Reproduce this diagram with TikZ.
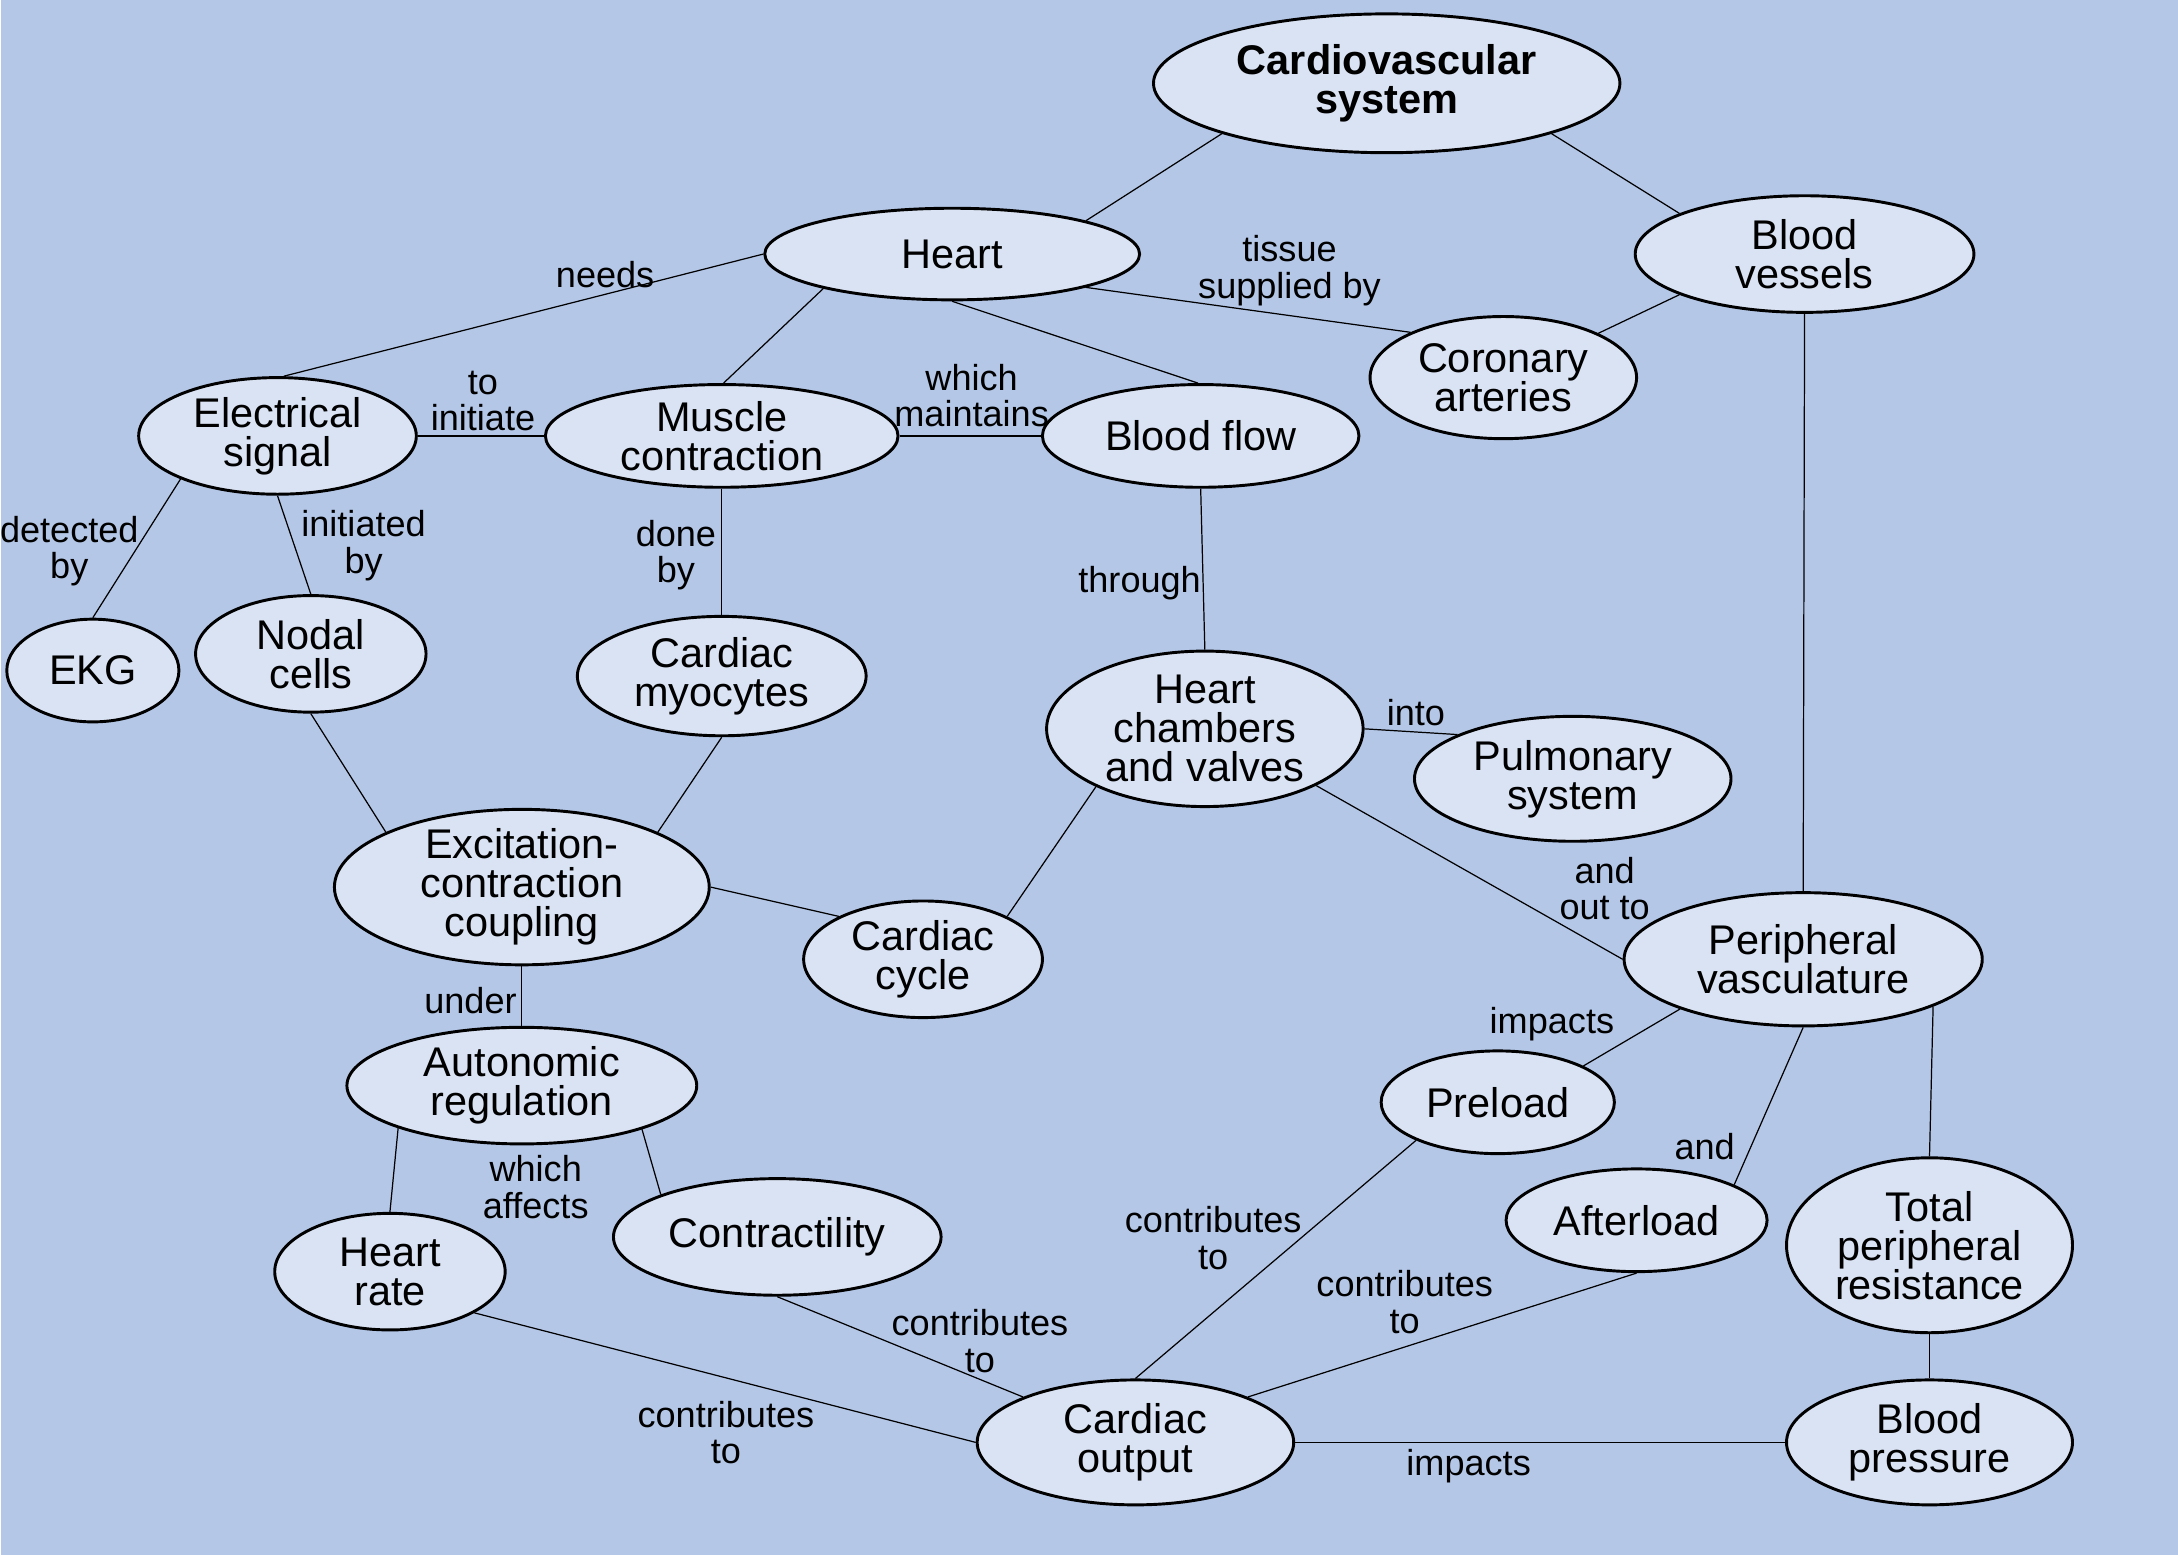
\documentclass[tikz,border=0pt]{standalone}
\usepackage{fontspec}
\setmainfont{Liberation Sans}
\usepackage{tikz}
\usetikzlibrary{shapes,positioning}
\definecolor{bgblue}{HTML}{B4C7E7}
\definecolor{nodefill}{HTML}{DAE3F3}
\tikzset{
    state/.style ={ellipse, draw, fill=nodefill, line width=1.2pt, align=center,
        inner xsep=0pt, inner ysep=-3pt, font=\fontsize{17}{16}\selectfont},
    el/.style = {inner sep=0pt, align=center, font=\fontsize{14.8}{15}\selectfont}
}

\begin{document}
\begin{tikzpicture}[line width=0.5pt]
    \fill[bgblue] (0,0) rectangle (31.36,-22.4);
    \node[state, minimum width=6.72cm, minimum height=2cm, font=\fontsize{17}{16}\selectfont\bfseries] (cvs) at (19.96,-1.2) {Cardiovascular\\system};
    \node[state, minimum width=5.4cm, minimum height=1.32cm] (heart) at (13.7,-3.66) {Heart};
    \node[state, minimum width=4.88cm, minimum height=1.68cm] (vessels) at (25.98,-3.66) {Blood\\vessels};
    \node[state, minimum width=3.84cm, minimum height=1.76cm] (coronary) at (21.64,-5.44) {Coronary\\arteries};
    \node[state, minimum width=4cm, minimum height=1.68cm] (elec) at (3.98,-6.28) {Electrical\\signal};
    \node[state, minimum width=5.08cm, minimum height=1.48cm] (muscle) at (10.38,-6.28) {Muscle\\contraction};
    \node[state, minimum width=4.56cm, minimum height=1.48cm] (flow) at (17.28,-6.28) {Blood flow};
    \node[state, minimum width=2.48cm, minimum height=1.48cm] (ekg) at (1.32,-9.66) {EKG};
    \node[state, minimum width=3.32cm, minimum height=1.68cm] (nodal) at (4.46,-9.42) {Nodal\\cells};
    \node[state, minimum width=4.16cm, minimum height=1.72cm] (myocytes) at (10.38,-9.74) {Cardiac\\myocytes};
    \node[state, minimum width=4.56cm, minimum height=2.24cm] (chambers) at (17.34,-10.5) {Heart\\chambers\\and valves};
    \node[state, minimum width=4.56cm, minimum height=1.8cm] (pulmonary) at (22.64,-11.22) {Pulmonary\\system};
    \node[state, minimum width=5.4cm, minimum height=2.24cm] (excitation) at (7.5,-12.78) {Excitation-\\contraction\\coupling};
    \node[state, minimum width=3.44cm, minimum height=1.68cm] (cycle) at (13.28,-13.82) {Cardiac\\cycle};
    \node[state, minimum width=5.16cm, minimum height=1.92cm] (peripheral) at (25.96,-13.82) {Peripheral\\vasculature};
    \node[state, minimum width=5.04cm, minimum height=1.68cm] (autonomic) at (7.5,-15.64) {Autonomic\\regulation};
    \node[state, minimum width=3.36cm, minimum height=1.48cm] (preload) at (21.56,-15.88) {Preload};
    \node[state, minimum width=3.76cm, minimum height=1.48cm] (afterload) at (23.56,-17.58) {Afterload};
    \node[state, minimum width=4.12cm, minimum height=2.52cm] (tpr) at (27.78,-17.94) {Total\\peripheral\\resistance};
    \node[state, minimum width=3.32cm, minimum height=1.68cm] (hrate) at (5.6,-18.32) {Heart\\rate};
    \node[state, minimum width=4.72cm, minimum height=1.68cm] (contract) at (11.18,-17.82) {Contractility};
    \node[state, minimum width=4.56cm, minimum height=1.8cm] (output) at (16.34,-20.78) {Cardiac\\output};
    \node[state, minimum width=4.12cm, minimum height=1.8cm] (pressure) at (27.78,-20.78) {Blood\\pressure};

    % links
    \path (cvs.197) edge (heart.14);
    \path (cvs.-17) edge (vessels.162);
    \path (heart.west) edge (elec.84);
    \path (heart.-14) edge (coronary.154);
    \path (vessels.198) edge (coronary.25);
    \path (heart.195) edge (muscle.88);
    \path (heart.south) edge (flow.93);
    \path (elec.east) edge (muscle.west);
    \path (muscle.east) edge (flow.west);
    \path (elec.204) edge (ekg.north);
    \path (elec.south) edge (nodal.north);
    \path (muscle.south) edge (myocytes.north);
    \path (flow.south) edge (chambers.north);
    \path (chambers.east) edge (pulmonary.159);
    \path (chambers.-27) edge (peripheral.west);
    \path (vessels.south) edge (peripheral.north);
    \path (nodal.south) edge (excitation.158);
    \path (myocytes.south) edge (excitation.22);
    \path (excitation.east) edge (cycle.153);
    \path (chambers.208) edge (cycle.27);
    \path (excitation.south) edge (autonomic.north);
    \path (autonomic.199) edge (hrate.north);
    \path (autonomic.-20) edge (contract.160);
    \path (hrate.-26) edge (output.west);
    \path (contract.south) edge (output.158);
    \path (preload.205) edge (output.north);
    \path (afterload.south) edge (output.22);
    \path (peripheral.202) edge (preload.23);
    \path (peripheral.south) edge (afterload.20);
    \path (peripheral.-20) edge (tpr.north);
    \path (tpr.south) edge (pressure.north);
    \path (output.east) edge (pressure.west);

    % link words
    \node[el] (needs) at (8.7,-3.96) {needs};
    \node[el] (supplied) at (18.56,-3.9) {tissue\\supplied by};
    \node[el] (initiate) at (6.94,-5.78) {to\\initiate};
    \node[el] (maintains) at (13.98,-5.7) {which\\maintains};
    \node[el] (detected) at (0.98,-7.94) {detected\\by};
    \node[el] (initiated) at (5.22,-7.86) {initiated\\by};
    \node[el] (done) at (9.72,-8.0) {done\\by};
    \node[el] (through) at (16.4,-8.4) {through};
    \node[el] (into) at (20.38,-10.26) {into};
    \node[el] (outto) at (23.1,-12.8) {and\\out to};
    \node[el] (under) at (6.76,-14.42) {under};
    \node[el] (affects) at (7.7,-17.1) {which\\affects};
    \node[el] (contrib1) at (10.44,-20.64) {contributes\\to};
    \node[el] (contrib2) at (14.1,-19.32) {contributes\\to};
    \node[el] (contrib3) at (17.46,-17.84) {contributes\\to};
    \node[el] (contrib4) at (20.22,-18.76) {contributes\\to};
    \node[el] (impacts1) at (22.34,-14.76) {impacts};
    \node[el] (and) at (24.54,-16.52) {and};
    \node[el] (impacts2) at (21.14,-21.12) {impacts};
\end{tikzpicture}
\end{document}
